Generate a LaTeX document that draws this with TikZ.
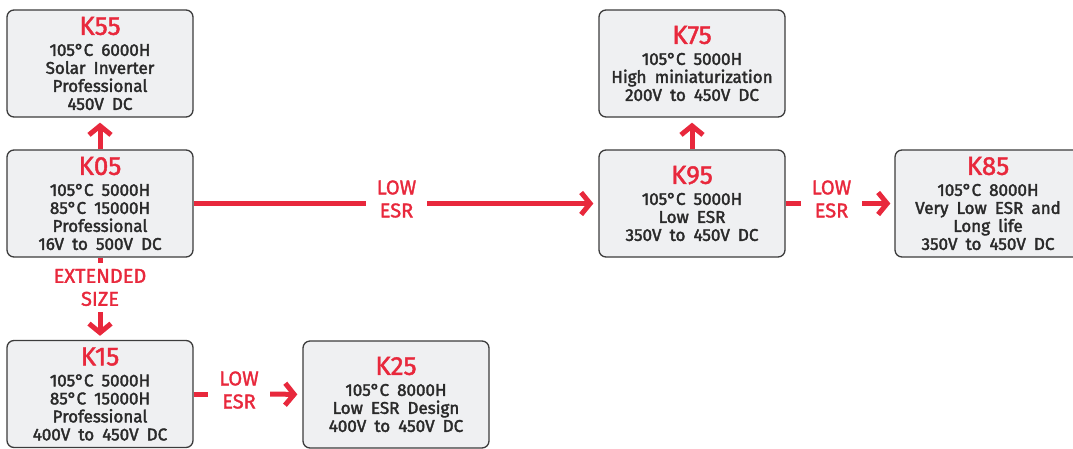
\documentclass[tikz,border=0pt]{standalone}
\usepackage{fontspec}
\setmainfont{Fira Sans}[WordSpace=1.8]
\newfontfamily\bodyfont{Fira Sans}[WordSpace=1.8, FakeBold=2.2]
\newfontfamily\titlefont{Fira Sans}[FakeBold=1.6]
\usetikzlibrary{arrows.meta}
\definecolor{kred}{HTML}{E8283C}
\definecolor{ktext}{HTML}{2A2A2A}
\definecolor{kfill}{HTML}{EFF0F2}
\definecolor{kborder}{HTML}{3C3C3C}
\tikzset{
  kbox/.style={draw=kborder, fill=kfill, line width=1.3pt, rounded corners=7pt,
    minimum width=186pt, minimum height=107pt, inner sep=0pt, align=center,
    text=ktext, font=\fontsize{17}{18}\selectfont\bodyfont},
  lbl/.style={text=kred, align=center, font=\fontsize{20}{23}\selectfont\titlefont, inner sep=0pt},
  conn/.style={draw=kred, line width=5pt},
  carrow/.style={conn, -{Straight Barb[length=9pt,width=22pt]}},
}
\newcommand{\ktitle}[1]{{\color{kred}\fontsize{26}{26}\selectfont\titlefont #1}\\[3pt]}
\begin{document}
\begin{tikzpicture}[x=1pt,y=-1pt]
\useasboundingbox (0,0) rectangle (1073,448);
\node[kbox] (k55) at (100,63.5) {\ktitle{K55}105°C 6000H\\Solar Inverter\\Professional\\450V DC};
\node[kbox] (k05) at (100,203.5) {\ktitle{K05}105°C 5000H\\85°C 15000H\\Professional\\16V to 500V DC};
\node[kbox] (k15) at (100,394) {\ktitle{K15}105°C 5000H\\85°C 15000H\\Professional\\400V to 450V DC};
\node[kbox] (k25) at (396,394.5) {\ktitle{K25}105°C 8000H\\Low ESR Design\\400V to 450V DC};
\node[kbox] (k75) at (692,63.5) {\ktitle{K75}105°C 5000H\\High miniaturization\\200V to 450V DC};
\node[kbox] (k95) at (692,203.5) {\ktitle{K95}105°C 5000H\\Low ESR\\350V to 450V DC};
\node[kbox] (k85) at (988,203.5) {\ktitle{K85}105°C 8000H\\Very Low ESR and\\Long life\\350V to 450V DC};

\node[lbl, minimum width=61pt] (l1) at (396.5,199) {LOW\\ESR};
\node[lbl, minimum width=61pt] (l2) at (831.5,199) {LOW\\ESR};
\node[lbl, minimum width=62pt] (l3) at (239,390) {LOW\\ESR};
\node[lbl, minimum height=49pt] (l4) at (100,287.5) {EXTENDED\\SIZE};

\draw[carrow, shorten >=5pt] (k05.north) -- (k55.south);
\draw[carrow, shorten >=5pt] (k95.north) -- (k75.south);
\draw[conn] (k05.east) -- (k05.east -| l1.west);
\draw[carrow, shorten >=5pt] (k05.east -| l1.east) -- (k95.west);
\draw[conn] (k95.east) -- (k95.east -| l2.west);
\draw[carrow, shorten >=4pt] (k95.east -| l2.east) -- (k85.west);
\draw[conn] (k15.east) -- (k15.east -| l3.west);
\draw[carrow, shorten >=5pt] (k15.east -| l3.east) -- (k25.west);
\draw[conn] (k05.south) -- (k05.south |- l4.north);
\draw[carrow, shorten >=4pt] (k05.south |- l4.south) -- (k15.north);
\end{tikzpicture}
\end{document}
